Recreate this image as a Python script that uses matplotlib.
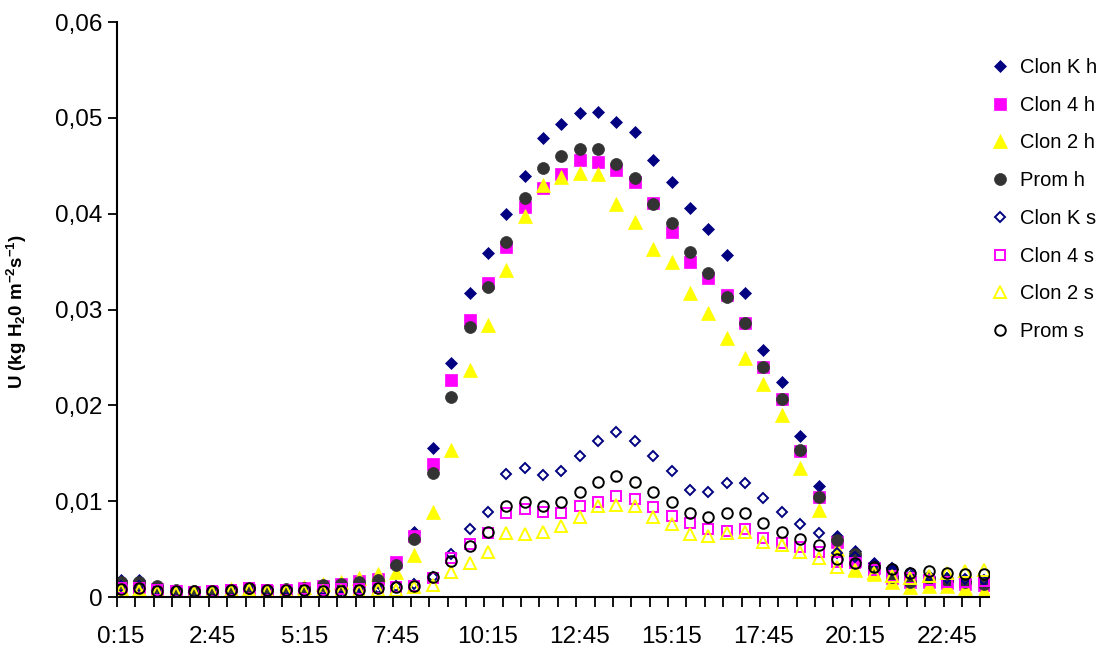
import matplotlib
matplotlib.use('Agg')
import matplotlib.pyplot as plt

plt.rcParams['font.family'] = ['Liberation Sans', 'DejaVu Sans']
plt.rcParams['mathtext.default'] = 'regular'

# half-hourly readings, 0:15 .. 23:45
times = [f'{(15 + 30 * i) // 60}:{(15 + 30 * i) % 60:02d}' for i in range(48)]

clon_k_h = [0.0018, 0.0018, 0.0010, 0.0006, 0.0004, 0.0004, 0.0005, 0.0007, 0.0004, 0.0003,
            0.0005, 0.0006, 0.0008, 0.0010, 0.0015, 0.0033, 0.0068, 0.0155, 0.0244, 0.0317,
            0.0359, 0.0400, 0.0439, 0.0479, 0.0494, 0.0505, 0.0506, 0.0496, 0.0485, 0.0456,
            0.0433, 0.0406, 0.0384, 0.0357, 0.0317, 0.0258, 0.0224, 0.0168, 0.0116, 0.0064,
            0.0048, 0.0035, 0.0029, 0.0022, 0.0020, 0.0018, 0.0017, 0.0016]
clon_4_h = [0.0010, 0.0010, 0.0008, 0.0006, 0.0005, 0.0005, 0.0005, 0.0007, 0.0006, 0.0007,
            0.0009, 0.0012, 0.0014, 0.0017, 0.0019, 0.0037, 0.0064, 0.0139, 0.0226, 0.0289,
            0.0328, 0.0365, 0.0407, 0.0427, 0.0441, 0.0456, 0.0454, 0.0446, 0.0433, 0.0411,
            0.0381, 0.0350, 0.0333, 0.0315, 0.0286, 0.0240, 0.0207, 0.0152, 0.0104, 0.0057,
            0.0038, 0.0030, 0.0020, 0.0016, 0.0016, 0.0015, 0.0014, 0.0013]
clon_2_h = [0.0009, 0.0008, 0.0006, 0.0002, 0.0002, 0.0004, 0.0008, 0.0006, 0.0003, 0.0006,
            0.0010, 0.0014, 0.0016, 0.0020, 0.0024, 0.0026, 0.0044, 0.0089, 0.0153, 0.0237,
            0.0284, 0.0341, 0.0398, 0.0430, 0.0438, 0.0442, 0.0441, 0.0410, 0.0391, 0.0363,
            0.0350, 0.0317, 0.0296, 0.0270, 0.0249, 0.0222, 0.0190, 0.0135, 0.0091, 0.0050,
            0.0028, 0.0024, 0.0016, 0.0010, 0.0012, 0.0011, 0.0009, 0.0006]
prom_h = [0.0016, 0.0016, 0.0011, 0.0007, 0.0006, 0.0006, 0.0007, 0.0009, 0.0007, 0.0008,
          0.0009, 0.0013, 0.0014, 0.0016, 0.0018, 0.0033, 0.0061, 0.0129, 0.0209, 0.0282,
          0.0323, 0.0370, 0.0416, 0.0448, 0.0460, 0.0468, 0.0468, 0.0452, 0.0437, 0.0410,
          0.0390, 0.0360, 0.0338, 0.0313, 0.0286, 0.0240, 0.0207, 0.0153, 0.0104, 0.0060,
          0.0045, 0.0032, 0.0021, 0.0016, 0.0020, 0.0018, 0.0016, 0.0014]
clon_k_s = [0.0012, 0.0012, 0.0007, 0.0005, 0.0004, 0.0005, 0.0006, 0.0008, 0.0006, 0.0007,
            0.0006, 0.0007, 0.0007, 0.0007, 0.0009, 0.0011, 0.0014, 0.0021, 0.0045, 0.0071,
            0.0089, 0.0128, 0.0135, 0.0127, 0.0131, 0.0147, 0.0163, 0.0172, 0.0163, 0.0147,
            0.0131, 0.0112, 0.0110, 0.0119, 0.0119, 0.0103, 0.0089, 0.0076, 0.0067, 0.0046,
            0.0042, 0.0034, 0.0030, 0.0025, 0.0022, 0.0020, 0.0019, 0.0018]
clon_4_s = [0.0009, 0.0009, 0.0007, 0.0006, 0.0005, 0.0006, 0.0007, 0.0009, 0.0007, 0.0007,
            0.0008, 0.0007, 0.0008, 0.0008, 0.0009, 0.0010, 0.0012, 0.0020, 0.0041, 0.0055,
            0.0067, 0.0088, 0.0092, 0.0089, 0.0088, 0.0095, 0.0099, 0.0105, 0.0102, 0.0094,
            0.0085, 0.0077, 0.0071, 0.0069, 0.0071, 0.0062, 0.0056, 0.0052, 0.0047, 0.0037,
            0.0035, 0.0028, 0.0022, 0.0020, 0.0018, 0.0016, 0.0016, 0.0017]
clon_2_s = [0.0007, 0.0006, 0.0005, 0.0004, 0.0004, 0.0005, 0.0006, 0.0007, 0.0006, 0.0006,
            0.0006, 0.0006, 0.0006, 0.0006, 0.0007, 0.0007, 0.0010, 0.0013, 0.0026, 0.0035,
            0.0047, 0.0067, 0.0066, 0.0068, 0.0074, 0.0083, 0.0095, 0.0096, 0.0095, 0.0084,
            0.0076, 0.0066, 0.0064, 0.0067, 0.0068, 0.0057, 0.0054, 0.0047, 0.0041, 0.0031,
            0.0028, 0.0025, 0.0022, 0.0020, 0.0022, 0.0025, 0.0027, 0.0028]
prom_s = [0.0008, 0.0009, 0.0006, 0.0006, 0.0006, 0.0006, 0.0007, 0.0009, 0.0007, 0.0007,
          0.0007, 0.0006, 0.0006, 0.0007, 0.0009, 0.0010, 0.0012, 0.0021, 0.0038, 0.0053,
          0.0068, 0.0095, 0.0099, 0.0095, 0.0099, 0.0110, 0.0120, 0.0126, 0.0120, 0.0110,
          0.0099, 0.0088, 0.0083, 0.0088, 0.0088, 0.0077, 0.0068, 0.0061, 0.0054, 0.0040,
          0.0036, 0.0031, 0.0029, 0.0025, 0.0027, 0.0025, 0.0024, 0.0024]

y_ticks = [0, 0.01, 0.02, 0.03, 0.04, 0.05, 0.06]

# (label, values, marker, size, face, edge)
series = [
    ('Clon K h', clon_k_h, 'D', 6.6, '#000080', '#000080'),
    ('Clon 4 h', clon_4_h, 's', 8.4, '#ff00ff', '#ff00ff'),
    ('Clon 2 h', clon_2_h, '^', 9.4, '#ffff00', '#ffff00'),
    ('Prom h', prom_h, 'o', 8.6, '#333333', '#333333'),
    ('Clon K s', clon_k_s, 'D', 5.6, 'none', '#000080'),
    ('Clon 4 s', clon_4_s, 's', 7.4, 'none', '#ff00ff'),
    ('Clon 2 s', clon_2_s, '^', 8.4, 'none', '#ffff00'),
    ('Prom s', prom_s, 'o', 7.6, 'none', '#000000'),
]

fig = plt.figure(figsize=(11.06, 6.49), dpi=100)
ax = fig.add_axes([0.1058, 0.0801, 0.7884, 0.886])

x = list(range(len(times)))
for label, vals, marker, size, face, edge in series:
    ax.plot(x, vals, linestyle='none', marker=marker, markersize=size,
            markerfacecolor=face, markeredgecolor=edge,
            markeredgewidth=1.4 if face == 'none' else 0.5, label=label)

ax.set_xlim(-0.19, 47.28)
ax.set_ylim(0, 0.06)

# tick marks sit a little left of each point, labels every 2.5 h
ax.set_xticks([i - 0.19 for i in x], minor=True)
ax.set_xticks(x[::5])
ax.set_xticklabels(times[::5], fontsize=17.5)
ax.tick_params(axis='x', which='major', length=0, pad=21)
ax.tick_params(axis='x', which='minor', length=7.5, width=1.3, direction='out')

ax.set_yticks(y_ticks)
ax.set_yticklabels([f'{v:.2f}'.replace('.', ',') if v else '0' for v in y_ticks], fontsize=17.5)
ax.tick_params(axis='y', length=6.5, width=1.3, pad=4, direction='out')

for side in ('top', 'right'):
    ax.spines[side].set_visible(False)
for side in ('left', 'bottom'):
    ax.spines[side].set_linewidth(1.5)

ax.set_ylabel('U (kg H$_2$0 m$^{-2}$s$^{-1}$)', fontsize=13.5, fontweight='bold')
ax.yaxis.set_label_coords(-0.101, 0.497)

fig.legend(loc='upper left', bbox_to_anchor=(990 / 1106, 1 - 58 / 649), frameon=False,
           fontsize=14.5, numpoints=1, handlelength=1.0, handletextpad=0.5,
           labelspacing=0.93, borderpad=0, borderaxespad=0)

fig.savefig('out.png', dpi=100)
